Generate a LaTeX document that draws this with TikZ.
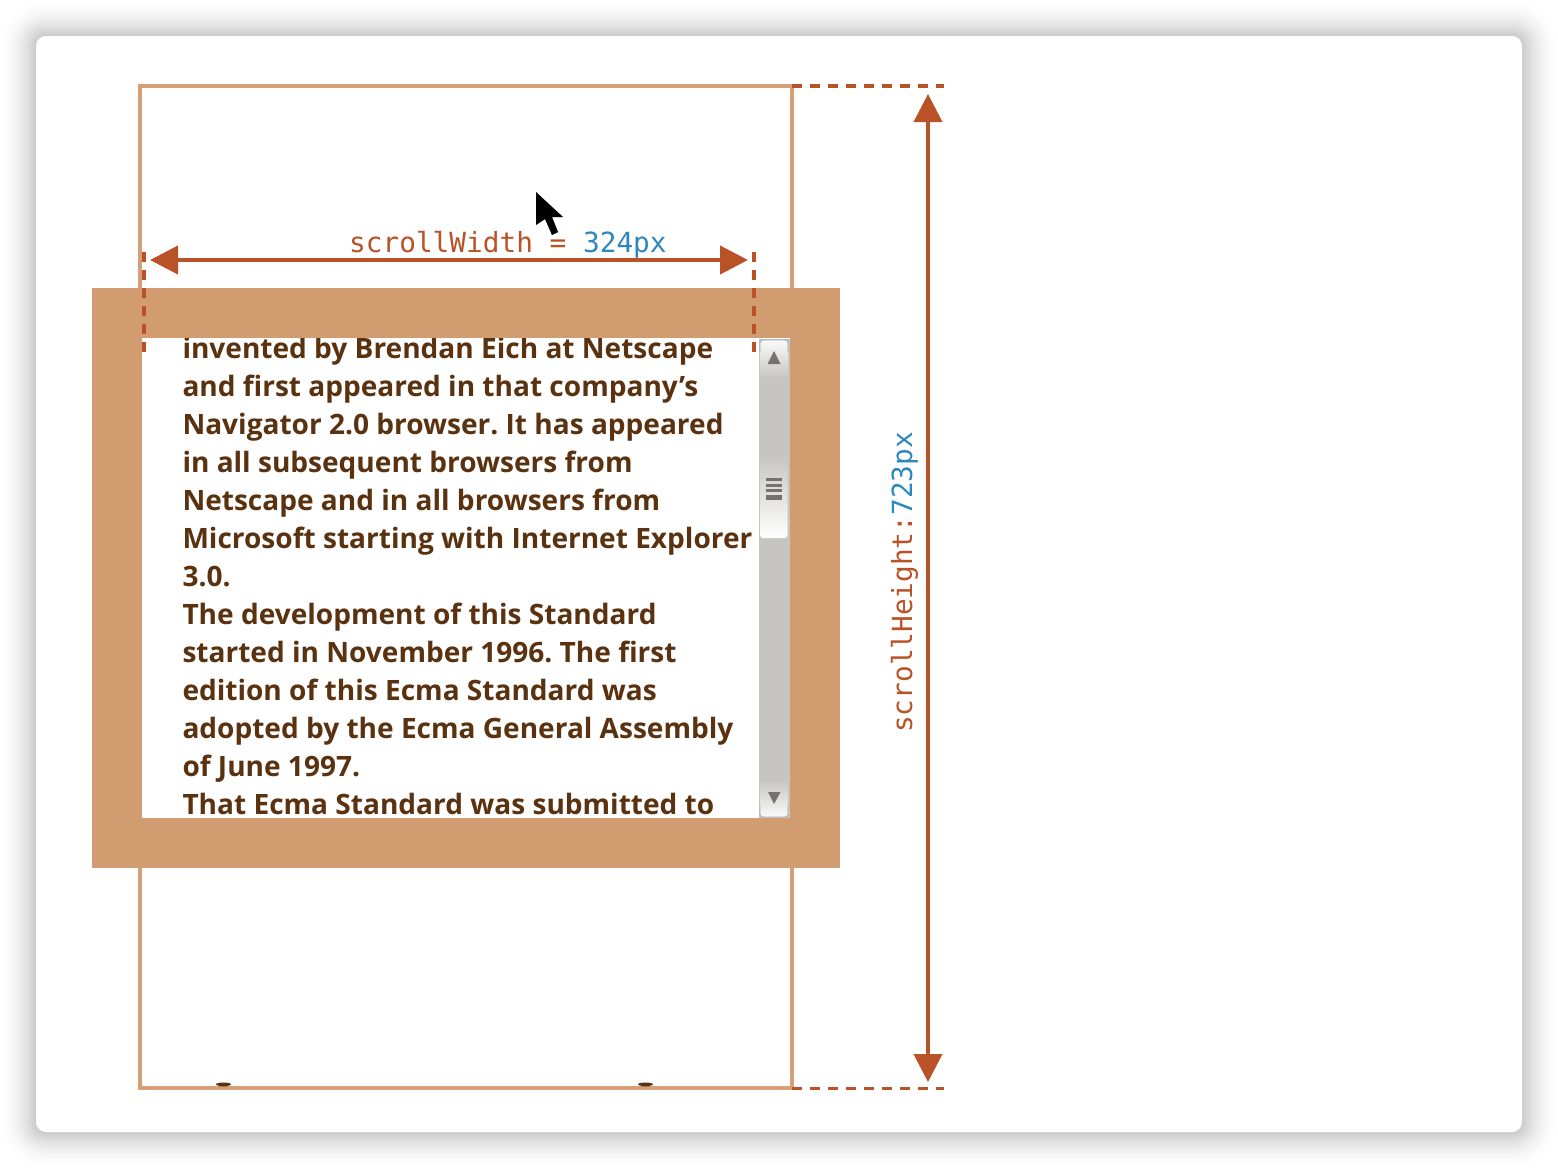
\documentclass[tikz,border=0pt]{standalone}
\usepackage{fontspec}
\setmainfont{Open Sans}
\newfontfamily\bodyfont{Open Sans}[BoldFont={Open Sans Bold}]
\newfontfamily\codefont{DejaVu Sans Mono}
\usetikzlibrary{arrows.meta}
\definecolor{sand}{HTML}{D09C70}
\definecolor{sandline}{HTML}{D5A076}
\definecolor{rust}{HTML}{B95227}
\definecolor{codeblue}{HTML}{2F87BD}
\definecolor{bodybrown}{HTML}{5A3210}
\definecolor{track}{HTML}{C6C5C1}
\definecolor{glyph}{HTML}{74736F}
\tikzset{
  x=1pt,y=-1pt,
  textline/.style={anchor=base west,inner sep=0pt,text=bodybrown,font=\bodyfont\frenchspacing\fontsize{28.05}{28}\selectfont\bfseries},
  codetext/.style={inner sep=0pt,text=rust,font=\codefont\fontsize{27.75}{28}\selectfont},
  dimarrow/.style={draw=rust,line width=4pt,{Triangle[length=28pt,width=28pt]}-{Triangle[length=28pt,width=28pt]},shorten <=0pt,shorten >=0pt},
  guide/.style={draw=rust,line width=4pt,dash pattern=on 10pt off 8pt},
  guidethin/.style={draw=rust,line width=3pt,dash pattern=on 10pt off 8pt},
}
\begin{document}
\begin{tikzpicture}
\useasboundingbox (0,0) rectangle (1558,1168);
\fill[white] (0,0) rectangle (1558,1168);
% window shadow
\foreach \i in {36,35,...,1}{
  \pgfmathsetmacro{\v}{21*(1-\i/37)^1.8}
  \pgfmathsetmacro{\r}{10+\i}
  \fill[black!\v!white,rounded corners=\r pt] ({36-\i},{36-\i}) rectangle ({1522+\i},{1132+\i});
}
\fill[white,rounded corners=10pt] (36,36) rectangle (1522,1132);
% content outline
\draw[sandline,line width=3.2pt] (140,86) rectangle (792,1088);
% ticks of clipped text
\fill[sandline!70!bodybrown] (219,1085) rectangle (228,1087);
\fill[sandline!70!bodybrown] (641,1085) rectangle (650,1087);
\fill[bodybrown] (223.5,1084.3) ellipse [x radius=7.5pt,y radius=1.8pt];
\fill[bodybrown] (645.5,1084.3) ellipse [x radius=7.5pt,y radius=1.8pt];
% border box
\fill[sand] (92,288) rectangle (840,868);
\fill[white] (142,338) rectangle (790,818);
% text
\begin{scope}
\clip (142,338) rectangle (790,818);
\node[textline] (l1) at (182.3,358) {invented by Brendan Eich at Netscape};
\node[textline] (l2) at (182.3,396) {and first appeared in that company’s};
\node[textline] (l3) at (182.3,434) {Navigator 2.0 browser. It has appeared};
\node[textline] (l4) at (182.3,472) {in all subsequent browsers from};
\node[textline] (l5) at (182.3,510) {Netscape and in all browsers from};
\node[textline] (l6) at (182.3,548) {Microsoft starting with Internet Explorer};
\node[textline] (l7) at (182.3,586) {3.0.};
\node[textline] (l8) at (182.3,624) {The development of this Standard};
\node[textline] (l9) at (182.3,662) {started in November 1996. The first};
\node[textline] (l10) at (182.3,700) {edition of this Ecma Standard was};
\node[textline] (l11) at (182.3,738) {adopted by the Ecma General Assembly};
\node[textline] (l12) at (182.3,776) {of June 1997.};
\node[textline] (l13) at (182.3,814) {That Ecma Standard was submitted to};
\end{scope}
% scrollbar
\fill[track] (759,339) rectangle (790,818);
\shade[top color=white!92!track,bottom color=track,rounded corners=3pt] (760,340) rectangle (788,378);
\draw[track!85!black,line width=0.8pt,rounded corners=3pt] (760,352) -- (760,340) -- (788,340) -- (788,352);
\shade[top color=track,bottom color=white,rounded corners=3pt] (760,455) rectangle (787.5,538);
\fill[glyph] (766,478) rectangle (782,481);
\fill[glyph] (766,483.5) rectangle (782,486.5);
\fill[glyph] (766,489) rectangle (782,492);
\fill[glyph] (766,494.5) rectangle (782,497.5);
\fill[glyph] (766,497.5) rectangle (782,500);
\fill[glyph] (774,351) -- (780.5,364) -- (767.5,364) -- cycle;
\shade[top color=track,bottom color=white!92!track,rounded corners=3pt] (760,780) rectangle (788,817);
\draw[track!85!black,line width=0.8pt,rounded corners=3pt] (760,805) -- (760,817) -- (788,817) -- (788,805);
\fill[glyph] (768,792) -- (780.5,792) -- (774,804) -- cycle;
% guides
\coordinate (wl-top) at (144,252);
\coordinate (wl-bot) at (144,352);
\coordinate (wr-top) at (754,252);
\coordinate (wr-bot) at (754,352);
\coordinate (ht-a) at (792,86);
\coordinate (ht-b) at (944,86);
\coordinate (hb-a) at (792,1088);
\coordinate (hb-b) at (944,1088);
\draw[guide] (wl-top) -- (wl-bot);
\draw[guide] (wr-top) -- (wr-bot);
\draw[guide] (ht-a) -- (ht-b);
\draw[guidethin] (hb-a) -- (hb-b);
% dimension arrows
\coordinate (aw-l) at (150,260);
\coordinate (aw-r) at (748,260);
\coordinate (ah-t) at (928,94);
\coordinate (ah-b) at (928,1082);
\draw[dimarrow] (aw-l) -- (aw-r);
\draw[dimarrow] (ah-t) -- (ah-b);
% labels
\node[codetext,anchor=base west] (wlabel) at (349,252) {scrollWidth = \textcolor{codeblue}{324px}};
\node[codetext,anchor=base west,rotate=90] (hlabel) at (912,733) {scrollHeight:\textcolor{codeblue}{723px}};
% cursor
\path[fill=black,draw=white,draw opacity=0.8,line width=2.5pt,line join=round] (536,192) -- (536,225) -- (545,219) -- (552,235) -- (558,232) -- (552,217) -- (563,217) -- cycle;
\fill[black] (536,192) -- (536,225) -- (545,219) -- (552,235) -- (558,232) -- (552,217) -- (563,217) -- cycle;
\end{tikzpicture}
\end{document}
